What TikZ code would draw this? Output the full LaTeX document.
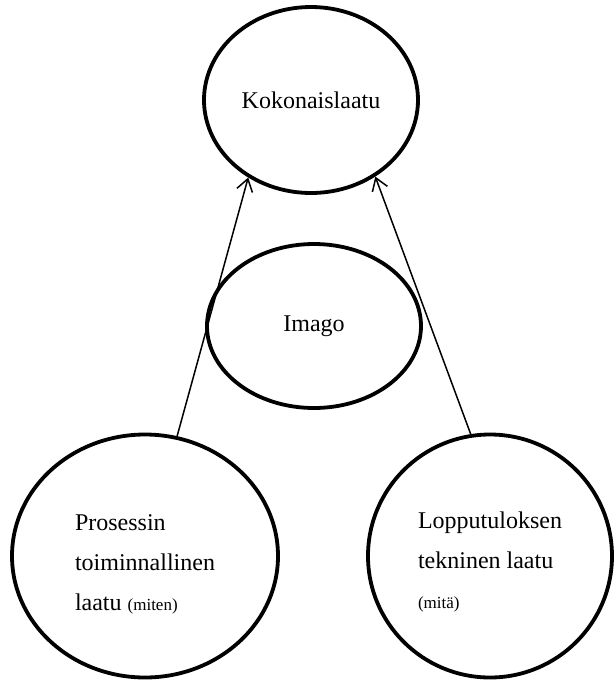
\documentclass[tikz,border=0pt]{standalone}
\usepackage{fontspec}
\setmainfont{Liberation Serif}
\usetikzlibrary{shapes.geometric,arrows.meta}

\begin{document}
\begin{tikzpicture}[x=0.5pt,y=-0.5pt,>={Straight Barb[length=6pt,width=8pt]},
      laatu/.style={ellipse,draw,line width=1.9pt,inner sep=0pt,align=left,
        font=\fontsize{12}{20}\selectfont},
      nuoli/.style={->,line width=0.75pt}]
      \useasboundingbox (0,0) rectangle (614,682);
      \node[laatu,minimum width=107pt,minimum height=93pt] (kok) at (311,100) {Kokonaislaatu};
      \node[laatu,minimum width=107pt,minimum height=82pt] (imago) at (314,326) {Imago};
      \node[laatu,minimum width=133pt,minimum height=121.5pt] (prosessi) at (145,556)
        {\rule{0pt}{16pt}Prosessin\\toiminnallinen\\laatu {\fontsize{8.5}{10}\selectfont(miten)}};
      \node[laatu,minimum width=122pt,minimum height=121.5pt] (lopputulos) at (490,556)
        {\rule{0pt}{14pt}Lopputuloksen\\tekninen laatu\\{\fontsize{8.5}{10}\selectfont(mitä)}};

      \draw[nuoli] (prosessi.75) -- (kok.-129);
      \draw[nuoli] (lopputulos.99) -- (kok.-50);
    \end{tikzpicture}
\end{document}
